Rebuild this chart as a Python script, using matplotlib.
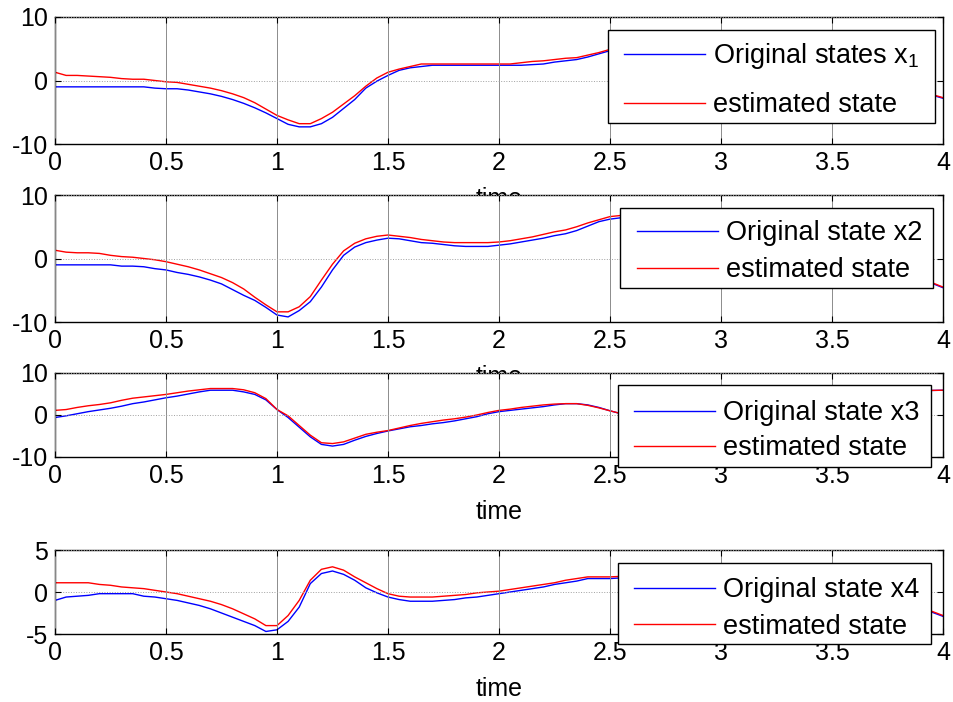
import numpy as np
import matplotlib
matplotlib.use("Agg")
import matplotlib.pyplot as plt
from matplotlib.patches import Rectangle

plt.rcParams['font.family'] = ['Liberation Sans', 'DejaVu Sans']
plt.rcParams['mathtext.fontset'] = 'custom'
plt.rcParams['mathtext.rm'] = 'Liberation Sans'
plt.rcParams['mathtext.it'] = 'Liberation Sans'

# time samples (s)
t = [0.00, 0.05, 0.10, 0.15, 0.20, 0.25, 0.30, 0.35, 0.40, 0.45,
     0.50, 0.55, 0.60, 0.65, 0.70, 0.75, 0.80, 0.85, 0.90, 0.95,
     1.00, 1.05, 1.10, 1.15, 1.20, 1.25, 1.30, 1.35, 1.40, 1.45,
     1.50, 1.55, 1.60, 1.65, 1.70, 1.75, 1.80, 1.85, 1.90, 1.95,
     2.00, 2.05, 2.10, 2.15, 2.20, 2.25, 2.30, 2.35, 2.40, 2.45,
     2.50, 2.75, 3.00, 3.25, 3.50, 3.75, 3.90, 4.00]

x1_true = [-1.0, -1.0, -1.0, -1.0, -1.0, -1.0, -1.0, -1.0, -1.0, -1.2,
           -1.3, -1.3, -1.5, -1.8, -2.1, -2.5, -3.0, -3.6, -4.3, -5.1,
           -6.0, -6.9, -7.3, -7.3, -6.8, -5.8, -4.4, -3.0, -1.2, -0.1,
           0.8, 1.6, 2.0, 2.2, 2.4, 2.4, 2.4, 2.4, 2.4, 2.4,
           2.4, 2.4, 2.4, 2.5, 2.6, 2.9, 3.1, 3.3, 3.7, 4.2,
           4.7, 5.8, 5.5, 3.8, 1.8, -0.2, -1.8, -2.8]
x1_est = [1.3, 0.8, 0.8, 0.7, 0.6, 0.5, 0.3, 0.2, 0.2, 0.0,
          -0.2, -0.3, -0.6, -0.9, -1.2, -1.6, -2.1, -2.7, -3.5, -4.5,
          -5.5, -6.2, -6.8, -6.8, -6.0, -5.0, -3.7, -2.4, -0.9, 0.4,
          1.3, 1.8, 2.2, 2.6, 2.6, 2.6, 2.6, 2.6, 2.6, 2.6,
          2.6, 2.6, 2.8, 3.0, 3.1, 3.3, 3.5, 3.6, 4.0, 4.4,
          4.9, 6.0, 5.6, 3.9, 1.9, -0.1, -1.7, -2.7]

x2_true = [-1.0, -1.0, -1.0, -1.0, -1.0, -1.0, -1.2, -1.2, -1.3, -1.6,
           -1.8, -2.2, -2.5, -2.9, -3.4, -4.0, -4.9, -5.8, -6.6, -7.7,
           -8.9, -9.2, -8.2, -6.8, -4.5, -1.8, 0.5, 1.8, 2.5, 2.9,
           3.2, 3.1, 2.8, 2.5, 2.4, 2.2, 2.0, 1.9, 1.9, 1.9,
           2.1, 2.3, 2.6, 2.9, 3.2, 3.6, 3.9, 4.4, 5.1, 5.8,
           6.2, 7.3, 6.5, 4.5, 2.0, -1.0, -3.2, -4.6]
x2_est = [1.3, 1.0, 0.9, 0.9, 0.8, 0.5, 0.3, 0.2, 0.0, -0.2,
          -0.5, -0.9, -1.3, -1.8, -2.4, -3.0, -3.8, -4.8, -6.1, -7.3,
          -8.4, -8.4, -7.6, -6.0, -3.4, -0.9, 1.2, 2.4, 3.1, 3.5,
          3.7, 3.5, 3.3, 3.0, 2.8, 2.6, 2.5, 2.5, 2.5, 2.5,
          2.6, 2.8, 3.1, 3.4, 3.8, 4.2, 4.5, 5.0, 5.6, 6.1,
          6.6, 7.5, 6.7, 4.7, 2.2, -0.9, -3.1, -4.5]

x3_true = [-0.6, -0.2, 0.3, 0.8, 1.2, 1.6, 2.1, 2.7, 3.1, 3.6,
           4.1, 4.5, 5.0, 5.5, 5.9, 5.9, 5.9, 5.5, 4.9, 3.6,
           1.3, -0.6, -2.9, -5.2, -7.0, -7.4, -7.0, -6.0, -5.1, -4.4,
           -3.8, -3.3, -2.8, -2.5, -2.1, -1.8, -1.4, -0.9, -0.4, 0.3,
           0.8, 1.1, 1.4, 1.7, 2.0, 2.4, 2.7, 2.7, 2.4, 1.8,
           1.0, -2.5, -4.0, -3.0, 0.0, 3.5, 5.8, 5.9]
x3_est = [1.1, 1.3, 1.8, 2.2, 2.5, 2.9, 3.5, 4.0, 4.3, 4.6,
          4.9, 5.3, 5.7, 6.0, 6.3, 6.3, 6.3, 6.0, 5.3, 3.9,
          1.3, -0.2, -2.5, -4.8, -6.6, -6.8, -6.4, -5.5, -4.6, -4.1,
          -3.7, -3.1, -2.5, -2.0, -1.6, -1.2, -0.9, -0.5, 0.0, 0.6,
          1.1, 1.4, 1.8, 2.1, 2.4, 2.6, 2.7, 2.7, 2.3, 1.7,
          1.0, -2.4, -3.9, -2.9, 0.1, 3.6, 5.8, 5.9]

x4_true = [-1.0, -0.6, -0.5, -0.4, -0.2, -0.2, -0.2, -0.2, -0.5, -0.6,
           -0.8, -1.0, -1.3, -1.6, -2.0, -2.5, -3.0, -3.5, -4.0, -4.7,
           -4.5, -3.5, -1.8, 1.0, 2.2, 2.5, 2.1, 1.4, 0.5, -0.1,
           -0.6, -0.9, -1.1, -1.1, -1.1, -1.0, -0.9, -0.7, -0.6, -0.4,
           -0.2, 0.0, 0.2, 0.4, 0.6, 0.9, 1.1, 1.3, 1.6, 1.6,
           1.6, 2.0, 1.5, 0.5, -0.5, -1.3, -1.9, -2.9]
x4_est = [1.1, 1.1, 1.1, 1.1, 0.9, 0.8, 0.6, 0.5, 0.4, 0.2,
          0.0, -0.2, -0.5, -0.8, -1.1, -1.5, -2.0, -2.6, -3.2, -4.0,
          -4.0, -2.8, -1.0, 1.4, 2.7, 3.0, 2.6, 1.8, 1.1, 0.4,
          -0.2, -0.5, -0.6, -0.6, -0.6, -0.5, -0.4, -0.3, -0.1, 0.0,
          0.1, 0.3, 0.5, 0.7, 0.9, 1.1, 1.4, 1.6, 1.8, 1.8,
          1.8, 2.1, 1.6, 0.6, -0.4, -1.2, -1.8, -2.8]

labels_true = ['Original states x$_{1}$', 'Original state x2',
               'Original state x3', 'Original state x4']
label_est = 'estimated state'
ylims = [(-10, 10), (-10, 10), (-10, 10), (-5, 5)]
yticks = [[-10, 0, 10], [-10, 0, 10], [-10, 0, 10], [-5, 0, 5]]
xticks = [0, 0.5, 1, 1.5, 2, 2.5, 3, 3.5, 4]
xticklabels = ['0', '0.5', '1', '1.5', '2', '2.5', '3', '3.5', '4']

W, H = 954, 702
fig = plt.figure(figsize=(W / 100, H / 100), dpi=100)

left, right = 55, 943
# axes boxes in pixels: (top, bottom)
ax_px = [(17, 144), (195, 322), (373, 457), (550, 634)]
# legend frames in pixels: (x0, y0, x1, y1)
leg_box = [(608, 30, 935, 123), (620, 208, 933, 288),
           (618, 385, 931, 467), (618, 563, 931, 644)]
# legend contents: (handle start x, top y, label spacing)
leg_content = [(624, 41, 0.78), (637, 220, 0.42),
               (634, 400, 0.35), (634, 577, 0.40)]

series = [(x1_true, x1_est), (x2_true, x2_est),
          (x3_true, x3_est), (x4_true, x4_est)]

for i, ((top, bot), (yt, ye)) in enumerate(zip(ax_px, series)):
    ax = fig.add_axes([left / W, 1 - bot / H, (right - left) / W, (bot - top) / H])
    ax.set_facecolor('white')
    ax.plot(t, yt, color='#0000ff', lw=1.0, label=labels_true[i])
    ax.plot(t, ye, color='#ff0000', lw=1.0, label=label_est)
    ax.set_xlim(0, 4)
    ax.set_ylim(*ylims[i])
    ax.set_xticks(xticks)
    ax.set_xticklabels(xticklabels)
    ax.set_yticks(yticks[i])
    ax.set_yticklabels([str(v) for v in yticks[i]])
    ax.tick_params(direction='in', length=4, width=0.8, top=True, right=True,
                   labelsize=18, pad=5, color='black')
    ax.xaxis.grid(True, color='#8c8c8c', lw=0.7, ls='-')
    ax.yaxis.grid(True, color='#a0a0a0', lw=0.7, ls=':')
    ax.set_axisbelow(False)
    for sp in ax.spines.values():
        sp.set_linewidth(1.0)
        sp.set_color('black')
    ax.set_xlabel('time', fontsize=18, labelpad=9)

    # legend frame
    bx0, by0, bx1, by1 = leg_box[i]
    ax.add_patch(Rectangle((bx0 / W, 1 - by1 / H), (bx1 - bx0) / W, (by1 - by0) / H,
                           transform=fig.transFigure, facecolor='white',
                           edgecolor='black', lw=1.0, clip_on=False, zorder=4.5))
    hx, ty, ls = leg_content[i]
    leg = ax.legend(loc='upper left', bbox_to_anchor=(hx / W, 1 - ty / H),
                    bbox_transform=fig.transFigure, borderaxespad=0,
                    fontsize=19.5, frameon=False, handlelength=3.0,
                    handletextpad=0.3, borderpad=0, labelspacing=ls)
    leg.set_zorder(5)

fig.savefig('out.png', dpi=100)
